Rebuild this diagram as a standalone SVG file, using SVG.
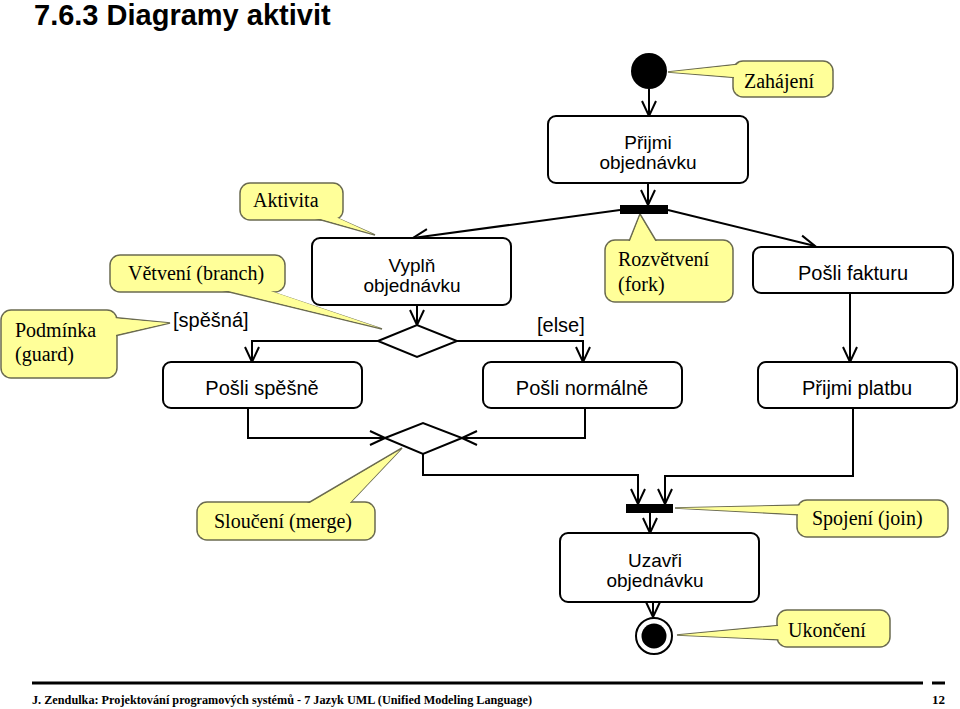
<svg xmlns="http://www.w3.org/2000/svg" width="960" height="709" viewBox="0 0 960 709">
<style>
.act{fill:#fff;stroke:#000;stroke-width:2}
.at{font-family:"Liberation Sans",Arial,sans-serif;font-size:20px;fill:#000;text-anchor:middle}
.at2{font-family:"Liberation Sans",Arial,sans-serif;font-size:19px;fill:#000;text-anchor:middle}
.gt{font-family:"Liberation Sans",Arial,sans-serif;font-size:20px;fill:#000}
.co{fill:#FFFF99;stroke:#6b6b50;stroke-width:1.5}
.cf{fill:#FFFF99;stroke:none}
.ct{font-family:"Liberation Serif","Times New Roman",serif;font-size:20px;fill:#000}
.cn{fill:none;stroke:#000;stroke-width:2}
.ar{marker-end:url(#arr)}
.bar{fill:#000}
.ft{font-family:"Liberation Serif","Times New Roman",serif;font-weight:bold;font-size:13px;fill:#000}
</style>
<defs>
<marker id="arr" markerUnits="userSpaceOnUse" viewBox="-17 -9 19 18" markerWidth="19" markerHeight="18" refX="0" refY="0" orient="auto">
<path d="M-15,-7 L0,0 L-15,7" fill="none" stroke="#000" stroke-width="2"/>
</marker>
</defs>
<rect width="960" height="709" fill="#fff"/>
<text x="34" y="25" font-family="Liberation Sans,Arial,sans-serif" font-weight="bold" font-size="29px" fill="#000">7.6.3 Diagramy aktivit</text>

<g id="callouts">
<g id="c-zahajeni">
<rect class="co" x="733" y="61" width="100" height="36" rx="10"/>
<polygon class="co" points="668,72 740,64 740,78"/>
<rect class="cf" x="734" y="62" width="98" height="34" rx="9"/>
<polygon class="cf" points="669,72 741,64.5 741,77.5"/>
<text class="ct" x="744" y="88">Zahájení</text>
</g>
<g id="c-aktivita">
<rect class="co" x="240" y="183" width="103" height="37" rx="10"/>
<polygon class="co" points="300,214 328,214 375,235"/>
<rect class="cf" x="241" y="184" width="101" height="35" rx="9"/>
<polygon class="cf" points="301,213 327,213 373,234"/>
<text class="ct" x="253" y="207">Aktivita</text>
</g>
<g id="c-vetveni">
<rect class="co" x="110" y="255" width="175" height="37" rx="10"/>
<polygon class="co" points="213,288 260,288 382,329"/>
<rect class="cf" x="111" y="256" width="173" height="35" rx="9"/>
<polygon class="cf" points="214,287 259,287 380,328"/>
<text class="ct" x="128" y="280">Větvení (branch)</text>
</g>
<g id="c-podminka">
<rect class="co" x="1" y="310" width="116" height="68" rx="10"/>
<polygon class="co" points="110,317 110,337 170,323"/>
<rect class="cf" x="2" y="311" width="114" height="66" rx="9"/>
<polygon class="cf" points="109,318 109,336 168,323"/>
<text class="ct" x="15" y="337">Podmínka</text>
<text class="ct" x="15" y="361">(guard)</text>
</g>
<g id="c-rozvetveni">
<rect class="co" x="605" y="240" width="128" height="62" rx="10"/>
<polygon class="co" points="628,244 658,244 640,214"/>
<rect class="cf" x="606" y="241" width="126" height="60" rx="9"/>
<polygon class="cf" points="629,245 657,245 640,216"/>
<text class="ct" x="618" y="266">Rozvětvení</text>
<text class="ct" x="618" y="291">(fork)</text>
</g>
<g id="c-slouceni">
<rect class="co" x="197" y="502" width="178" height="38" rx="10"/>
<polygon class="co" points="303,506 347,506 402,448"/>
<rect class="cf" x="198" y="503" width="176" height="36" rx="9"/>
<polygon class="cf" points="304,507 346,507 400,450"/>
<text class="ct" x="214" y="528">Sloučení (merge)</text>
</g>
<g id="c-spojeni">
<rect class="co" x="797" y="500" width="151" height="37" rx="10"/>
<polygon class="co" points="803,505 803,515 675,508"/>
<rect class="cf" x="798" y="501" width="149" height="35" rx="9"/>
<polygon class="cf" points="804,505.5 804,514.5 677,508"/>
<text class="ct" x="812" y="525">Spojení (join)</text>
</g>
<g id="c-ukonceni">
<rect class="co" x="777" y="610" width="113" height="37" rx="10"/>
<polygon class="co" points="783,625 783,640 677,635"/>
<rect class="cf" x="778" y="611" width="111" height="35" rx="9"/>
<polygon class="cf" points="784,625.5 784,639.5 679,635"/>
<text class="ct" x="788" y="637">Ukončení</text>
</g>
</g>

<g id="connectors">
<path class="cn ar" d="M649,89 V116"/>
<path class="cn ar" d="M648,183 V205"/>
<path class="cn ar" d="M620,210 L413,238"/>
<path class="cn ar" d="M668,210 L815,246"/>
<path class="cn ar" d="M417,305 V325"/>
<path class="cn ar" d="M457,341 H583 V362"/>
<path class="cn ar" d="M378,341 H252 V362"/>
<path class="cn ar" d="M850,293 V362"/>
<path class="cn ar" d="M248,408 V438 H385"/>
<path class="cn ar" d="M585,408 V438 H462"/>
<path class="cn ar" d="M423,454 V475 H638 V504"/>
<path class="cn ar" d="M853,408 V476 H665 V504"/>
<path class="cn ar" d="M650,513 V533"/>
<path class="cn ar" d="M653,602 V617"/>
<text class="gt" x="173" y="327">[spěšná]</text>
<text class="gt" x="537" y="332">[else]</text>
</g>

<g id="start"><circle cx="649" cy="71" r="18" fill="#000"/></g>
<g id="prijmi-objednavku">
<rect class="act" x="548" y="116" width="200" height="67" rx="8"/>
<text class="at2" x="648" y="149">Přijmi</text>
<text class="at2" x="648" y="169">objednávku</text>
</g>
<g id="fork"><rect class="bar" x="620" y="205" width="48" height="9"/></g>
<g id="vypln-objednavku">
<rect class="act" x="312" y="238" width="199" height="67" rx="8"/>
<text class="at2" x="412" y="272">Vyplň</text>
<text class="at2" x="412" y="292">objednávku</text>
</g>
<g id="branch"><polygon points="378,341 417,325 457,341 417,357" fill="#fff" stroke="#000" stroke-width="2"/></g>
<g id="posli-fakturu">
<rect class="act" x="753" y="247" width="200" height="46" rx="8"/>
<text class="at" x="853" y="280">Pošli fakturu</text>
</g>
<g id="posli-spesne">
<rect class="act" x="163" y="362" width="199" height="46" rx="8"/>
<text class="at" x="262" y="395">Pošli spěšně</text>
</g>
<g id="posli-normalne">
<rect class="act" x="483" y="362" width="199" height="46" rx="8"/>
<text class="at" x="582" y="395">Pošli normálně</text>
</g>
<g id="prijmi-platbu">
<rect class="act" x="758" y="362" width="199" height="46" rx="8"/>
<text class="at" x="857" y="395">Přijmi platbu</text>
</g>
<g id="merge"><polygon points="385,438 423,423 462,438 423,454" fill="#fff" stroke="#000" stroke-width="2"/></g>
<g id="join"><rect class="bar" x="626" y="504" width="47" height="9"/></g>
<g id="uzavri-objednavku">
<rect class="act" x="560" y="533" width="199" height="69" rx="8"/>
<text class="at2" x="655" y="567">Uzavři</text>
<text class="at2" x="655" y="587">objednávku</text>
</g>
<g id="end">
<circle cx="654" cy="636" r="18" fill="#fff" stroke="#000" stroke-width="2"/>
<circle cx="654" cy="636" r="12.5" fill="#000"/>
</g>

<g id="footer">
<path d="M32,683 H923" stroke="#000" stroke-width="3"/>
<path d="M932,683 H945" stroke="#000" stroke-width="3"/>
<text class="ft" x="32" y="704" textLength="500" lengthAdjust="spacingAndGlyphs">J. Zendulka: Projektování programových systémů - 7 Jazyk UML (Unified Modeling Language)</text>
<text class="ft" x="932" y="704">12</text>
</g>
</svg>
